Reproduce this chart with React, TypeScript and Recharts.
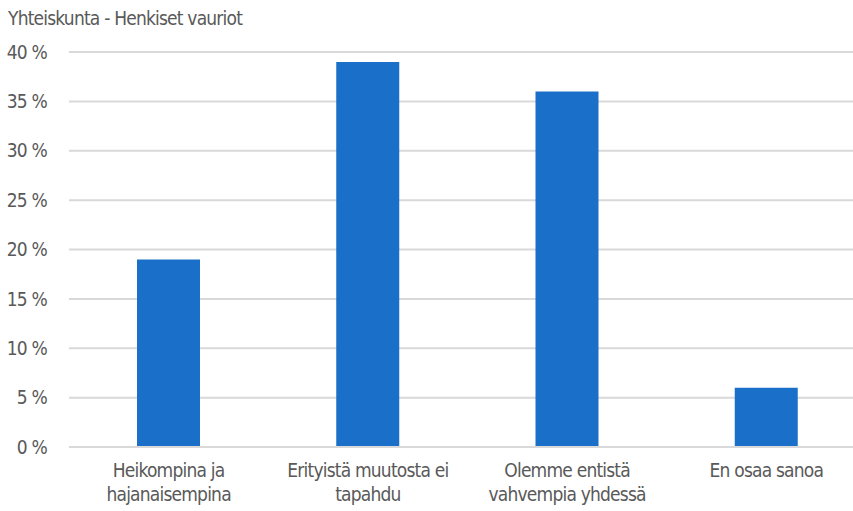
import { BarChart, Bar, XAxis, YAxis, CartesianGrid } from 'recharts'

const categories = [
  ['Heikompina ja', 'hajanaisempina'],
  ['Erityistä muutosta ei', 'tapahdu'],
  ['Olemme entistä', 'vahvempia yhdessä'],
  ['En osaa sanoa'],
]
const shares = [19, 39, 36, 6]
const yTicks = [0, 5, 10, 15, 20, 25, 30, 35, 40]

const FONT = '"Liberation Sans Narrow", "DejaVu Sans Condensed", sans-serif'
const TEXT = '#595959'
const SQUEEZE = -0.8

const data = categories.map((lines, i) => ({ name: lines.join(' '), lines, value: shares[i] }))

function CategoryTick({ x, y, index }: { x?: number; y?: number; index?: number }): React.ReactElement {
  const lines = data[index ?? 0].lines
  return (
    <text x={x} y={y} textAnchor="middle" fill={TEXT} fontFamily={FONT} fontSize={19} letterSpacing={SQUEEZE}>
      {lines.map((l, i) => (
        <tspan key={i} x={x} dy={i === 0 ? 22 : 24}>{l}</tspan>
      ))}
    </text>
  )
}

export default function App(): React.ReactElement {
  if (typeof document !== 'undefined') document.body.style.margin = '0'
  return (
    <div style={{ width: 853, height: 511, overflow: 'hidden', position: 'relative', background: '#fff' }}>
      <div style={{ position: 'absolute', left: 8, top: 7, fontFamily: FONT, fontSize: 19, letterSpacing: SQUEEZE, color: TEXT }}>
        Yhteiskunta - Henkiset vauriot
      </div>
      <BarChart width={866} height={511} data={data} margin={{ top: 52, right: 0, left: 0, bottom: 0 }} barSize={63}>
        <CartesianGrid vertical={false} stroke="#d9d9d9" strokeWidth={2} />
        <XAxis
          dataKey="name"
          axisLine={{ stroke: '#d9d9d9', strokeWidth: 2 }}
          tickLine={false}
          tick={<CategoryTick />}
          interval={0}
          height={64}
        />
        <YAxis
          domain={[0, 40]}
          ticks={yTicks}
          width={69}
          axisLine={false}
          tickLine={false}
          tickSize={0}
          tickMargin={22}
          tickFormatter={(v: number) => `${v} %`}
          tick={{ fill: TEXT, fontFamily: FONT, fontSize: 19, letterSpacing: SQUEEZE }}
        />
        <Bar dataKey="value" fill="#1a70c8" isAnimationActive={false} />
      </BarChart>
    </div>
  )
}
